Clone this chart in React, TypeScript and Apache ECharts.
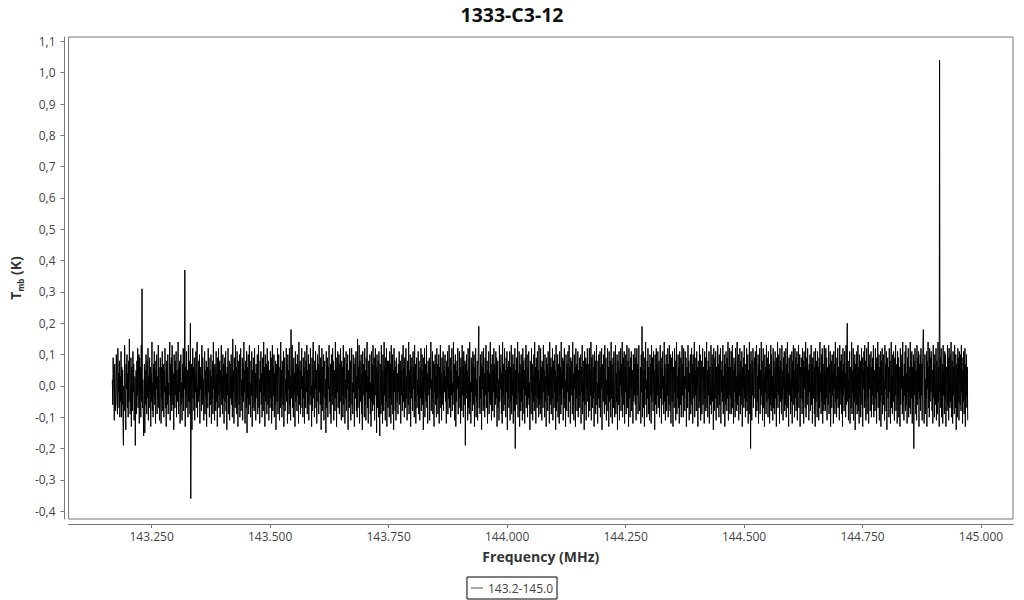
import React, { useEffect, useRef } from "react";
import * as echarts from "echarts";

const chartTitle = "1333-C3-12";
const seriesName = "143.2-145.0";
const freqStart = 143.167; // MHz, first channel
const freqStep = 0.000836; // MHz, channel width
const xTicks = [143.25, 143.5, 143.75, 144.0, 144.25, 144.5, 144.75, 145.0];
const yTicks = [-0.4, -0.3, -0.2, -0.1, 0, 0.1, 0.2, 0.3, 0.4, 0.5, 0.6, 0.7, 0.8, 0.9, 1.0, 1.1];

// Tmb per channel, in units of 0.01 K (centikelvin)
const tmb01 = [
  2, -6, 9, 4, -3, -11, 7, 1, -8, -5, 10, 3, -4, -9, 12, -2, 4, -7, 8, -10,
  3, -5, 11, -10, 6, -6, 5, -12, -19, 0, -8, 13, 6, -3, -14, 7, -1, 10, -7, 4,
  -10, 8, -5, 15, 2, -9, -4, 9, -13, 6, 1, -8, 11, -2, 7, -11, -6, 3, -19, -4,
  5, -9, 8, -3, 12, -7, 4, 10, -12, 9, -1, 6, -10, 13, -5, 31, -7, 2, -8, -16,
  -3, 7, -15, 5, -6, 10, 0, -9, 8, -4, 12, -11, 3, -7, 9, -2, 6, -13, 4, -5,
  14, -8, 1, -10, 7, -3, 11, -6, 5, -12, 8, -1, 10, -9, 3, -4, 13, -7, 6, -11,
];
const tmb02 = [
  -5, 9, 2, -12, 6, -4, 11, -8, 3, 7, -10, 5, -2, 12, -7, 0, -13, 8, 4, -6,
  10, -9, 1, -3, 6, 14, -11, 7, -5, 9, -8, 13, -1, -6, 4, -14, 10, 2, -7, 8,
  -3, 11, -10, 5, 0, -5, 14, -9, 6, -2, 8, -12, 3, 10, -6, 1, -11, 7, -4, 12,
  -8, 4, -1, 37, -13, 6, -3, 11, -7, 2, 5, -10, 13, -5, 8, -2, -9, 20, -36, -6,
  7, -14, 1, 12, -4, 6, -8, 9, -11, 4, -2, 11, -7, 5, 14, -10, 0, -5, 8, -3,
  10, -12, 6, -1, 3, -8, 13, -6, 9, -4, 2, -11, 7, 11, -9, 5, -3, 8, -13, 4,
];
const tmb03 = [
  6, -7, 12, -2, 9, -10, 1, 5, -6, 10, -12, 3, -4, 8, -9, 14, -1, 6, -11, 7,
  2, -8, 11, -5, 4, -13, 9, -3, 12, -7, 0, 8, -10, 5, -2, 13, -6, 3, -9, 10,
  -4, 7, -12, 1, 9, -5, 11, -8, 4, -14, 6, -3, 12, -9, 2, 8, -11, -4, 7, -4,
  10, -6, 3, -10, 15, -2, 5, -12, 9, 1, -7, 13, -5, 6, -9, 11, -1, -13, 8, 3,
  -6, 10, -10, 4, 12, -8, 2, -3, 9, -11, 7, -5, 14, -2, 5, -12, 8, 0, -7, 11,
  -15, 6, -4, 10, -9, 3, 13, -6, 1, -10, 8, -3, 11, -13, 5, -7, 9, 2, -8, 12,
];
const tmb04 = [
  -5, 4, -11, 7, 0, -4, 10, -9, 6, 13, -7, 2, -12, 8, -2, 11, -6, 4, -10, 9,
  1, -8, 14, -3, 6, -13, 10, -5, 3, 7, -9, 12, -1, -6, 8, -11, 5, 0, -7, 11,
  -4, 9, -12, 2, 13, -8, 6, -3, 10, -10, 4, -6, 8, -14, 7, 1, -5, 12, -9, 3,
  10, -2, -11, 6, -7, 14, -4, 5, -10, 8, 0, -6, 11, -13, 4, 9, -8, 2, -3, 12,
  -5, 7, -12, 10, -1, 5, -9, 12, -6, 3, -11, 18, 1, -4, 13, -7, 6, -10, 9, -2,
  4, -13, 11, -5, 7, 0, -8, 10, -3, 6, -12, 14, -6, 2, 8, -9, 5, -1, 12, -7,
];
const tmb05 = [
  3, -10, 9, -4, 6, -12, 11, 1, -7, 8, -2, 13, -9, 5, -5, 10, -11, 4, 7, -6,
  12, -3, 0, -13, 9, -8, 6, 14, -4, 2, -10, 8, -1, 11, -7, 5, -12, 3, 10, -5,
  7, -9, 13, -2, 4, -6, 9, -14, 1, 12, -8, 6, -3, 10, -11, 5, 8, -4, 2, -15,
  11, -7, 3, 9, -10, 6, -1, 13, -5, 0, -9, 7, -12, 10, 4, -6, 12, -3, 8, -11,
  1, 5, -8, 14, -4, 9, -13, 6, -2, 11, -7, 3, 10, -9, 7, -5, 12, 0, -11, 8,
  -3, 6, -10, 13, -6, 4, 9, -12, 2, -4, 11, -8, 7, -1, 10, -14, 5, 3, -7, 12,
];
const tmb06 = [
  -5, 8, -11, 4, 12, -6, 1, -9, 10, -2, 7, -13, 5, 9, -4, 11, -8, 3, -10, 15,
  -7, 6, -1, 13, -12, 8, 2, -5, 10, -9, 4, -14, 11, -3, 7, 0, -10, 12, -6, 5,
  -11, 9, -2, 14, -7, 3, -12, 8, 6, -4, 10, -9, 1, -13, 11, -5, 7, -8, 13, 2,
  -6, 9, -11, 4, 12, -3, 6, -15, 10, -7, 3, 8, -10, 11, -4, -16, 7, 1, -9, 13,
  -6, 5, -12, 10, 2, -8, 14, -3, 6, -11, 9, -5, 12, -13, 4, 8, -7, 8, 0, -10,
  11, -4, 7, -12, 13, -6, 3, 10, -9, 5, -14, 12, -2, 8, -8, 6, -11, 9, 1, -5,
];
const tmb07 = [
  4, -9, 7, -2, 11, -6, 0, 8, -12, 5, -3, 10, -8, 2, 13, -5, 6, -10, 9, -1,
  -7, 12, -4, 3, -11, 8, 1, -6, 14, -9, 5, -2, 10, -13, 6, -4, 9, 2, -8, 11,
  -1, 6, -10, 13, -5, 7, -12, 4, 9, -7, 2, -3, 11, -9, 8, 0, -11, 6, -4, 12,
  -8, 3, 10, -6, 5, -14, 9, -2, 12, -10, 7, 1, -5, 13, -7, 4, -12, 8, 3, -3,
  9, -11, 6, -1, 14, -8, 2, -5, 11, -9, 5, 8, -13, 7, -2, 10, -6, 3, -10, 12,
  -4, 7, -9, 1, 10, -12, 6, -3, 13, -7, 4, -11, 9, 0, -6, 11, -8, 5, -2, 8,
];
const tmb08 = [
  10, -5, 3, -12, 8, -1, 11, -9, 6, -4, 13, -7, 2, 9, -10, 5, -3, 12, -8, 1,
  -6, 14, -2, 7, -11, 4, 10, -13, 5, -5, 8, -1, 12, -9, 3, -7, 11, -4, 6, -12,
  9, 0, -8, 13, -3, 6, -10, 11, -6, 2, 8, -19, 7, -4, 10, -2, 5, -11, 12, -7,
  3, -9, 14, -5, 1, -12, 9, -2, 7, -8, 11, -6, 4, 10, -13, 6, -3, 12, -10, 2,
  -5, 8, -11, 5, 13, 19, -7, 3, -9, 10, -4, 7, -14, 11, -1, 6, -8, 12, -6, 4,
  -10, 9, -3, 13, -7, 1, 8, -12, 5, -2, 11, -9, 4, -5, 14, -6, 7, -11, 3, 10,
];
const tmb09 = [
  -8, 5, -2, 12, -10, 7, 0, -6, 11, -4, 9, -13, 3, 8, -7, 2, -11, 13, -5, 6,
  -1, 10, -9, 4, -12, 14, -3, 7, -8, 1, 12, -6, 5, -10, 9, -2, 11, -14, 6, -4,
  8, -7, 3, 11, -11, 6, -5, 13, -9, 2, -3, 10, -12, 7, 0, -8, 12, -20, 5, -4,
  9, -6, 1, 14, -10, 4, -2, 11, -13, 7, 3, -8, 10, -5, 6, -11, 12, -1, 8, -9,
  5, -12, 9, -3, 13, -7, 2, 10, -10, 6, -4, 11, -6, 1, -14, 8, 4, -9, 12, -2,
  7, -11, 3, -5, 10, -8, 14, -3, 6, -12, 9, 0, -7, 11, -4, 5, -10, 13, -6, 2,
];
const tmb10 = [
  -9, 12, -4, 6, -11, 8, 1, -7, 13, -2, 5, -10, 10, -5, 3, -13, 9, -1, 7, -8,
  11, -3, 4, -12, 14, -6, 2, 9, -9, 6, -4, 12, -11, 0, 8, -7, 10, -2, 5, -14,
  13, -8, 3, -5, 10, -10, 7, 1, -12, 11, -3, 6, -9, 14, -6, 4, -1, 9, -11, 8,
  -4, 12, -7, 2, -13, 10, 5, -8, 7, -2, 11, -10, 3, 13, -5, 6, -12, 9, -3, 1,
  8, -9, 14, -6, 4, -11, 10, -1, 6, -13, 12, -4, 7, -8, 2, 11, -10, 5, -3, 9,
  -7, 3, 10, -12, 6, -2, 13, -9, 1, -5, 8, -14, 11, -6, 4, 9, -11, 7, -1, 12,
];
const tmb11 = [
  -5, 7, -10, 2, 12, -8, 5, -3, 14, -11, 9, 0, -7, 10, -4, 6, -13, 11, -2, 8,
  -9, 4, 13, -6, 1, -12, 8, -4, 10, -7, 3, 11, -10, 6, -1, 12, -14, 5, 7, -5,
  10, -2, -9, 13, -6, 4, 9, -11, 2, -3, 12, -8, 6, -13, 11, -5, 1, 8, -10, 14,
  -4, 7, -12, 3, 9, -7, 11, -1, -10, 6, 13, -9, 4, -5, 10, -14, 8, 2, -6, 11,
  -11, 5, 0, 12, -8, 7, -3, 14, -10, 3, 9, -6, 11, -12, 6, -2, 10, -9, 4, 13,
  -7, 1, 8, -13, 12, -4, 6, -10, 9, -1, 11, -8, 3, 5, -12, 10, -5, 7, -3, 12,
];
const tmb12 = [
  -6, 9, -11, 4, 12, -3, 7, -9, 1, 13, -8, -8, -5, 6, -12, 10, -2, 19, -10, 3,
  11, -7, 5, -13, 9, -1, 14, -6, 2, -10, 8, -4, 12, -9, 6, 0, -11, 10, -3, 7,
  -12, 13, -5, 3, 9, -8, 11, -2, 5, -14, 10, -6, 1, 12, -9, 7, -3, 11, -7, 4,
  8, -10, 2, 13, -4, 6, -12, 9, -1, 11, -6, 3, -9, 14, -5, 7, -11, 1, 10, -8,
  5, -3, 12, -10, 7, -6, 13, -1, -8, 10, -12, 4, 9, -5, 11, -13, 6, 2, -7, 12,
  -2, 8, -11, 5, 14, -9, 3, -4, 10, -7, 6, -12, 11, 1, -6, 9, -10, 4, 13, -3,
];
const tmb13 = [
  7, -10, 12, -4, 3, -8, 11, -1, 9, -13, 5, 6, -7, 13, -2, 8, -11, 4, -5, 10,
  -9, 2, 12, -6, 7, -12, 10, 0, -4, 14, -10, 5, -3, 9, -8, 11, -1, 6, -13, 8,
  3, -7, 13, -5, 10, -11, 4, 8, -9, 1, 12, -6, 6, -2, -12, 11, -4, 9, -8, 2,
  14, -7, 5, -10, 8, -3, 11, -12, 6, 0, -6, 13, -9, 4, 10, -5, 7, -14, 12, -1,
  -8, 9, -4, 11, -11, 6, 2, -7, 13, -3, 7, -10, 10, -6, 4, 12, -12, 5, -2, 8,
  -5, 13, -9, 3, -1, 10, -13, 7, -6, 11, 1, -8, 9, -4, 14, -11, 6, -3, 12, -9,
];
const tmb14 = [
  6, -4, 11, -9, 2, 13, -7, 5, -12, 9, -2, 7, -10, 12, -5, 3, -8, 14, -6, 1,
  10, -11, 4, -3, 12, -9, 8, -6, 1, 11, -13, 6, -1, 9, -7, 13, -4, 3, -10, 7,
  -5, 12, -8, 2, 10, -12, 5, -2, 14, -9, 7, -20, 11, 0, -11, 8, -3, 12, -7, 4,
  6, 9, -4, 11, -10, 6, 13, -8, 3, -5, 10, -12, 7, -1, 12, -9, 5, -6, 14, -3,
  8, -11, 2, 12, -7, 4, -13, 10, -2, 6, -9, 13, -5, 9, 1, -10, 11, -4, 7, -12,
  5, -6, 13, -8, 10, -3, 3, -11, 12, -7, 8, 0, -9, 11, -4, 6, -13, 9, -2, 14,
];
const tmb15 = [
  -7, 10, -3, 6, -12, 12, -5, 8, 1, -9, 13, -4, 5, -11, 9, -1, 11, -8, 3, -6,
  12, -10, 7, -2, 14, -7, 4, -13, 9, -3, 6, 10, -9, 2, -5, 11, -12, 8, -1, 13,
  -6, 5, -10, 12, -4, 9, -8, 3, 11, -11, 7, -2, 13, -7, 1, 10, -13, 6, -4, 9,
  2, -9, 12, -5, 8, -12, 11, -1, 6, -7, 14, -10, 3, 9, -6, 12, -3, 5, -11, 7,
  -2, 10, -8, 4, 13, -6, 7, -12, 9, 0, -4, 11, -9, 6, -13, 12, -5, 8, 2, -10,
  11, -3, 6, -11, 9, -7, 14, -2, 4, -9, 10, -5, 12, -12, 7, 1, -8, 13, -6, 5,
];
const tmb16 = [
  -8, 12, -4, 9, -11, 6, 2, -6, 13, -9, 7, -2, 11, -13, 5, 8, -7, 10, -3, 4,
  -12, 11, -1, 7, -9, 14, -5, 3, -10, 9, -4, 12, -7, 6, 0, -11, 13, -6, 8, -2,
  10, -9, 5, -13, 12, -3, 7, -8, 11, -1, 4, -10, 13, -6, 9, 20, -5, 2, -11, 8,
  -4, 11, -12, 6, 3, -7, 14, -9, 5, -2, 12, -11, 8, -5, 10, -14, 7, 1, -6, 11,
  -9, 4, 13, -8, 6, -12, 10, -3, 8, -10, 2, 12, -6, 9, -13, 5, -1, 11, -7, 13,
  -5, 8, -11, 3, 12, -9, 6, -4, 14, -12, 7, -1, 10, -8, 4, 11, -10, 6, -3, 9,
];
const tmb17 = [
  -6, 13, -10, 5, 1, -8, 12, -4, 9, -12, 7, -2, 14, -7, 3, 10, -11, 6, -5, 11,
  -13, 8, -3, 12, -9, 4, 10, -6, 2, -11, 13, -1, 7, -8, 11, -14, 5, 9, -4, 6,
  -10, 12, -2, 8, -12, 5, 14, -7, 3, -9, 10, -5, 11, 0, -11, 9, -3, 13, -8, 4,
  7, -12, 11, -4, 9, -10, 6, 2, -13, 12, -6, 8, -1, 10, -9, 14, -5, 3, -11, 7,
  -3, 11, -8, 13, -6, 4, -12, 9, -2, 12, -10, 6, 1, -7, 14, -9, 8, -4, 11, -12,
  6, -5, 10, -20, 8, -3, 12, 5, -9, 5, -11, 13, -6, 9, -2, 11, -13, 7, -4, 10,
];
const tmb18 = [
  -8, 12, -3, 7, -11, 5, 13, 18, 9, -12, 4, 10, -9, 2, -4, 11, -13, 8, -1, 14,
  -7, 6, -10, 12, -5, 9, -2, 11, 11, -8, 5, -12, 13, -4, 7, -10, 10, 1, -6, 12,
  -11, 8, 3, -9, 14, -5, 6, -13, 104, -2, 9, -7, 12, -10, 4, 7, -12, 13, -3, 5,
  -9, 11, -4, 10, -13, 6, 2, -8, 13, -6, 9, -11, 12, 0, -7, 10, -5, 14, -10, 3,
  8, -12, 11, -3, 6, -9, 13, -1, -7, 10, -14, 7, 4, -10, 12, -5, 9, -11, 11, -4,
  -6, 10, -8, 13, -2, 5, -12, 9, -5, 11, -9, 3, 12, -13, 7, -3, 10, -7, 6, -11,
];

const tmbCentiK = [
  ...tmb01, ...tmb02, ...tmb03, ...tmb04, ...tmb05, ...tmb06,
  ...tmb07, ...tmb08, ...tmb09, ...tmb10, ...tmb11, ...tmb12,
  ...tmb13, ...tmb14, ...tmb15, ...tmb16, ...tmb17, ...tmb18,
];
const spectrum = tmbCentiK.map((v, i) => [freqStart + i * freqStep, v / 100]);

const FONT = "'Open Sans', 'Noto Sans', sans-serif";

export default function App() {
  const ref = useRef<HTMLDivElement>(null);
  useEffect(() => {
    if (!ref.current) return;
    const chart = echarts.init(ref.current, undefined, { renderer: "svg" });
    chart.setOption({
      animation: false,
      backgroundColor: "#ffffff",
      title: {
        text: chartTitle,
        left: "center",
        top: -1,
        textStyle: { fontFamily: FONT, fontSize: 19.5, fontWeight: "bold", color: "#111" },
      },
      legend: {
        bottom: 1,
        left: "center",
        data: [{ name: seriesName, icon: "rect" }],
        borderColor: "#000",
        borderWidth: 1,
        borderRadius: 0,
        padding: [5, 4, 5, 4],
        itemWidth: 12,
        itemHeight: 1,
        itemGap: 4,
        itemStyle: { color: "#555" },
        textStyle: { fontFamily: FONT, fontSize: 12, color: "#444" },
      },
      grid: {
        left: 66,
        right: 11,
        top: 37,
        bottom: 81,
        show: true,
        borderColor: "#777",
        borderWidth: 1,
      },
      xAxis: {
        type: "value",
        min: 143.0747,
        max: 145.0675,
        offset: 5,
        name: "Frequency (MHz)",
        nameLocation: "middle",
        nameGap: 25,
        nameTextStyle: { fontFamily: FONT, fontSize: 14, fontWeight: "bold", color: "#333" },
        axisLine: { show: true, onZero: false, lineStyle: { color: "#777", width: 1 } },
        axisTick: { show: true, length: 4, customValues: xTicks, lineStyle: { color: "#777" } },
        axisLabel: {
          customValues: xTicks,
          margin: 6,
          fontFamily: FONT,
          fontSize: 12,
          color: "#444",
          formatter: (v: number) => v.toFixed(3),
        },
        splitLine: { show: false },
      },
      yAxis: {
        type: "value",
        min: -0.425,
        max: 1.114,
        offset: 4,
        name: "{b|T}{s|mb}{b| (K)}",
        nameLocation: "middle",
        nameRotate: 90,
        nameGap: 25,
        nameTextStyle: {
          fontFamily: FONT,
          color: "#333",
          rich: {
            b: { fontFamily: FONT, fontSize: 14, fontWeight: "bold", color: "#333", lineHeight: 18 },
            s: { fontFamily: FONT, fontSize: 8, fontWeight: "bold", color: "#333", lineHeight: 10, verticalAlign: "bottom" },
          },
        },
        axisLine: { show: true, onZero: false, lineStyle: { color: "#777", width: 1 } },
        axisTick: { show: true, length: 4, customValues: yTicks, lineStyle: { color: "#777" } },
        axisLabel: {
          customValues: yTicks,
          margin: 9,
          fontFamily: FONT,
          fontSize: 12,
          color: "#444",
          formatter: (v: number) => v.toFixed(1).replace(".", ","),
        },
        splitLine: { show: false },
      },
      series: [
        {
          name: seriesName,
          type: "line",
          data: spectrum,
          showSymbol: false,
          symbol: "none",
          lineStyle: { color: "#000", width: 1 },
          itemStyle: { color: "#000" },
          emphasis: { disabled: true },
        },
      ],
    });
    return () => chart.dispose();
  }, []);
  return (
    <div
      ref={ref}
      style={{ position: "fixed", left: 0, top: 0, width: 1024, height: 600, background: "#fff" }}
    />
  );
}
